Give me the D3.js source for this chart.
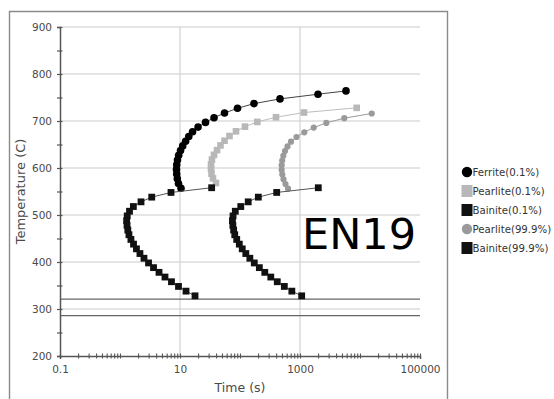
<!DOCTYPE html>
<html>
<head>
<meta charset="utf-8">
<script src="https://cdn.jsdelivr.net/npm/d3@7"></script>
<style>
  html, body { margin: 0; padding: 0; background: #fff; }
  svg { display: block; font-family: "DejaVu Sans", sans-serif; }
</style>
</head>
<body>
<svg id="chart" width="554" height="399"></svg>
<script>
// CCT/TTT curves for EN19 steel: transformation start (0.1%) and finish (99.9%)
const ferriteTemp = [557, 567, 577, 587, 597, 607, 617, 627, 637, 647, 657, 667, 677, 687, 697, 707, 717, 727, 737, 747, 757, 764];
const ferriteTime = [10.4, 9.44, 9.02, 8.81, 8.74, 8.81, 9.08, 9.51, 10.2, 11.1, 12.4, 14.0, 16.2, 20.0, 26.6, 36.9, 55.2, 90.8, 171, 464, 1995, 5843];

const pearliteStartTemp = [568, 578, 588, 598, 608, 618, 628, 638, 648, 658, 668, 678, 688, 698, 708, 718, 728];
const pearliteStartTime = [39.8, 35.5, 33.5, 32.9, 32.9, 34.1, 36.9, 41.4, 47.3, 55.2, 66.8, 85.8, 121, 194, 398, 1166, 8810];

const bainiteTemp = [558, 548, 538, 528, 518, 508, 498, 488, 478, 468, 458, 448, 438, 428, 418, 408, 398, 388, 378, 368, 358, 348, 338, 328];
const bainiteStartTime = [33.7, 7.08, 3.38, 2.24, 1.67, 1.44, 1.32, 1.29, 1.31, 1.35, 1.41, 1.52, 1.68, 1.88, 2.15, 2.51, 2.99, 3.62, 4.47, 5.62, 7.21, 9.44, 12.6, 17.8];

const pearliteFinishTemp = [556, 566, 576, 586, 596, 606, 616, 626, 636, 646, 656, 666, 676, 686, 696, 706, 716];
const pearliteFinishTime = [631, 573, 531, 507, 495, 495, 505, 527, 562, 619, 708, 874, 1180, 1692, 2742, 5470, 15670];

const bainiteFinishTime = [2018, 409, 202, 137, 103, 83.5, 76.6, 74.8, 76, 78.3, 81.8, 88.2, 97.4, 109, 125, 146, 173, 210, 259, 326, 418, 548, 731, 1067];

// Martensite reference lines (Ms and M50)
const martensiteTemps = [321, 286];

const yTickValues = [200, 300, 400, 500, 600, 700, 800, 900];
const xTickLabels = [0.1, 10, 1000, 100000];
const seriesNames = ["Ferrite(0.1%)", "Pearlite(0.1%)", "Bainite(0.1%)", "Pearlite(99.9%)", "Bainite(99.9%)"];
const chartLabel = "EN19";

const svg = d3.select("#chart");

const x = d3.scaleLog().domain([0.1, 100000]).range([60, 420]);
const y = d3.scaleLinear().domain([200, 900]).range([356, 27]);

// outer panel frame
svg.append("path")
  .attr("d", "M9.5,420 V11.5 H447.5 V420")
  .attr("fill", "none").attr("stroke", "#8a8a8a").attr("stroke-width", 1.4);

// grid
const grid = svg.append("g");
grid.selectAll("line.h").data(yTickValues.slice(1)).join("line")
  .attr("x1", x(0.1)).attr("x2", x(100000))
  .attr("y1", d => y(d)).attr("y2", d => y(d))
  .attr("stroke", "#dcdcdc").attr("stroke-width", 1.3);
grid.selectAll("line.v").data([10, 1000]).join("line")
  .attr("x1", d => x(d)).attr("x2", d => x(d))
  .attr("y1", y(900)).attr("y2", y(200))
  .attr("stroke", "#d2d2d2").attr("stroke-width", 1.2);

// martensite lines
svg.append("g").selectAll("line").data(martensiteTemps).join("line")
  .attr("x1", x(0.1)).attr("x2", x(100000))
  .attr("y1", d => y(d)).attr("y2", d => y(d))
  .attr("stroke", "#666").attr("stroke-width", 1.4);

// axes
const yMinor = d3.range(200, 901, 50);
const yAxis = svg.append("g").attr("transform", `translate(${x(0.1)},0)`)
  .call(d3.axisLeft(y).tickValues(yMinor).tickSize(3).tickPadding(5)
    .tickFormat(d => d % 100 === 0 ? d : ""));
yAxis.select(".domain").attr("stroke", "#555").attr("stroke-width", 1.5);
yAxis.selectAll(".tick line").attr("x1", 2.5).attr("x2", -3).attr("stroke", "#555").attr("stroke-width", 1.2);
yAxis.selectAll(".tick text").attr("fill", "#4a4a4a").attr("font-size", 10.5)
  .attr("font-family", "DejaVu Sans, sans-serif");

const xMinor = [];
for (let e = -1; e < 5; e++) for (let m = 1; m < 10; m++) xMinor.push(m * Math.pow(10, e));
xMinor.push(100000);
const xAxis = svg.append("g").attr("transform", `translate(0,${y(200)})`)
  .call(d3.axisBottom(x).tickValues(xMinor).tickSize(3).tickPadding(7)
    .tickFormat(d => xTickLabels.some(v => Math.abs(v - d) / v < 1e-6) ? (d < 1 ? "0.1" : String(Math.round(d))) : ""));
xAxis.select(".domain").attr("stroke", "#555").attr("stroke-width", 1.5);
xAxis.selectAll(".tick line").attr("y1", -2.5).attr("y2", 2.5).attr("stroke", "#555").attr("stroke-width", 1.1);
xAxis.selectAll(".tick text").attr("fill", "#4a4a4a").attr("font-size", 10.5)
  .attr("font-family", "DejaVu Sans, sans-serif");

// axis titles
svg.append("text").attr("transform", `translate(25,${(y(200) + y(900)) / 2}) rotate(-90)`)
  .attr("text-anchor", "middle").attr("font-size", 13).attr("fill", "#4a4a4a")
  .text("Temperature (C)");
svg.append("text").attr("x", (x(0.1) + x(100000)) / 2).attr("y", 392)
  .attr("text-anchor", "middle").attr("font-size", 12.5).attr("fill", "#4a4a4a")
  .text("Time (s)");

// series
const series = [
  { name: seriesNames[0], t: ferriteTime, T: ferriteTemp, shape: "circle", size: 3.8, fill: "#000", line: "#444" },
  { name: seriesNames[1], t: pearliteStartTime, T: pearliteStartTemp, shape: "square", size: 6.6, fill: "#b8b8b8", line: "#bdbdbd" },
  { name: seriesNames[2], t: bainiteStartTime, T: bainiteTemp, shape: "square", size: 6.8, fill: "#111", line: "#555" },
  { name: seriesNames[3], t: pearliteFinishTime, T: pearliteFinishTemp, shape: "circle", size: 3.1, fill: "#9a9a9a", line: "#9a9a9a" },
  { name: seriesNames[4], t: bainiteFinishTime, T: bainiteTemp, shape: "square", size: 6.8, fill: "#111", line: "#555" }
];

const lineGen = d3.line().x(d => x(d[0])).y(d => y(d[1]));

series.forEach(s => {
  const pts = s.t.map((t, i) => [t, s.T[i]]);
  const g = svg.append("g");
  g.append("path").datum(pts).attr("d", lineGen)
    .attr("fill", "none").attr("stroke", s.line).attr("stroke-width", 1);
  if (s.shape === "circle") {
    g.selectAll("circle").data(pts).join("circle")
      .attr("cx", d => x(d[0])).attr("cy", d => y(d[1])).attr("r", s.size)
      .attr("fill", s.fill);
  } else {
    g.selectAll("rect").data(pts).join("rect")
      .attr("x", d => x(d[0]) - s.size / 2).attr("y", d => y(d[1]) - s.size / 2)
      .attr("width", s.size).attr("height", s.size)
      .attr("fill", s.fill);
  }
});

// steel grade label
svg.append("text").attr("x", 302).attr("y", 249)
  .attr("font-size", 43).attr("fill", "#000").text(chartLabel);

// legend
const legend = svg.append("g").attr("transform", "translate(467,172)");
series.forEach((s, i) => {
  const row = legend.append("g").attr("transform", `translate(0,${i * 19})`);
  if (s.shape === "circle") {
    row.append("circle").attr("r", 5.2).attr("fill", s.fill);
  } else {
    row.append("rect").attr("x", -5.5).attr("y", -6).attr("width", 11).attr("height", 12).attr("fill", s.fill);
  }
  row.append("text").attr("x", 5.5).attr("y", 4).attr("font-size", 10.2)
    .attr("fill", "#333").text(s.name);
});
</script>
</body>
</html>
